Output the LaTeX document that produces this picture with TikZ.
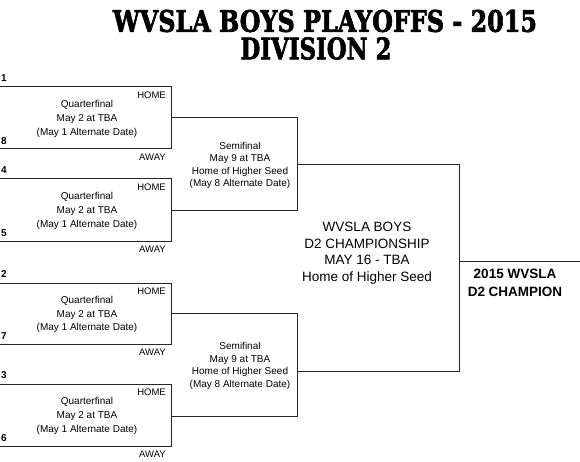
\documentclass[tikz,border=0pt]{standalone}
\usepackage{fontspec}
\setmainfont{Liberation Sans}
\newfontfamily\titlefont[BoldFeatures={FakeBold=2.5}]{DejaVu Serif}
\begin{document}
\begin{tikzpicture}[x=1pt,y=-1pt,
  bline/.style={draw=black!85,line width=1pt},
  qftext/.style={align=center,inner sep=0pt,font=\fontsize{10}{13.7}\selectfont},
  sftext/.style={align=center,inner sep=0pt,font=\fontsize{10}{12.6}\selectfont},
  fintext/.style={align=center,inner sep=0pt,font=\fontsize{13.5}{16.5}\selectfont},
  champtext/.style={align=center,inner sep=0pt,font=\fontsize{13.5}{17.7}\selectfont\bfseries},
  seed/.style={anchor=west,inner sep=0pt,font=\fontsize{10}{12}\selectfont\bfseries},
  side/.style={anchor=east,inner sep=0pt,font=\fontsize{9.5}{11}\selectfont},
  ttl/.style={inner sep=0pt}]
\useasboundingbox (0,0) rectangle (580,462);
% title
\node[ttl] (t1) at (325,21) {\resizebox{424pt}{22pt}{\titlefont\bfseries WVSLA BOYS PLAYOFFS - 2015}};
\node[ttl] (t2) at (316,48.5) {\resizebox{151pt}{22pt}{\titlefont\bfseries DIVISION 2}};
% coordinates of brackets
\def\bx{171.5}
\def\sx{297.5}
\def\fx{459.5}
\foreach \n/\top/\bot in {1/87/149,2/179/241,3/283/344,4/384/446}{
  \coordinate (q\n tl) at (0,\top);
  \coordinate (q\n tr) at (\bx,\top);
  \coordinate (q\n br) at (\bx,\bot);
  \coordinate (q\n bl) at (0,\bot);
  \draw[bline] (q\n tl) -- (q\n tr) -- (q\n br) -- (q\n bl);
}
\foreach \n/\top/\bot in {1/118/211,2/313/416}{
  \coordinate (s\n tl) at (\bx,\top);
  \coordinate (s\n tr) at (\sx,\top);
  \coordinate (s\n br) at (\sx,\bot);
  \coordinate (s\n bl) at (\bx,\bot);
  \draw[bline] (s\n tl) -- (s\n tr) -- (s\n br) -- (s\n bl);
}
\coordinate (ftl) at (\sx,165);
\coordinate (ftr) at (\fx,165);
\coordinate (fbr) at (\fx,371);
\coordinate (fbl) at (\sx,371);
\draw[bline] (ftl) -- (ftr) -- (fbr) -- (fbl);
\coordinate (cl) at (\fx,261);
\coordinate (cr) at (580,261);
\draw[bline] (cl) -- (cr);
% quarterfinal texts
\foreach \n/\top/\bot/\a/\b in {1/87/149/1/8,2/179/241/4/5,3/283/344/2/7,4/384/446/3/6}{
  \node[qftext] (qf\n) at (87,{(\top+\bot)/2+1}) {Quarterfinal\\May 2 at TBA\\(May 1 Alternate Date)};
  \node[side] (home\n) at (166,\top+8) {HOME};
  \node[side] (away\n) at (166,\bot+8.5) {AWAY};
  \node[seed] (sa\n) at (1,\top-9) {\a};
  \node[seed] (sb\n) at (1,\bot-8) {\b};
}
% semifinal texts
\node[sftext] (sf1) at (240,165.5) {Semifinal\\May 9 at TBA\\Home of Higher Seed\\(May 8 Alternate Date)};
\node[sftext] (sf2) at (240,366) {Semifinal\\May 9 at TBA\\Home of Higher Seed\\(May 8 Alternate Date)};
% final
\node[fintext] (fin) at (367,253) {WVSLA BOYS\\D2 CHAMPIONSHIP\\MAY 16 - TBA\\Home of Higher Seed};
\node[champtext] (champ) at (515,283) {2015 WVSLA\\D2 CHAMPION};
\end{tikzpicture}
\end{document}
